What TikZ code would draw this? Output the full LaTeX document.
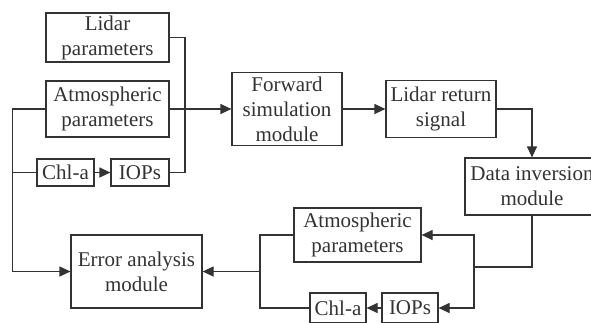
\documentclass[tikz,border=0pt]{standalone}
\usepackage{fontspec}
\setmainfont{Liberation Serif}
\usetikzlibrary{arrows.meta}
\definecolor{ink}{HTML}{333333}
\begin{document}
\begin{tikzpicture}[x=1pt,y=-1pt,
  box/.style={draw=ink, line width=1.2pt, inner sep=0pt, align=center,
    font=\fontsize{21}{25}\selectfont, text=ink},
  link/.style={draw=ink, line width=1.2pt},
  arr/.style={link, -{Triangle[length=11pt,width=10pt]}}]
  \fill[white] (0,0) rectangle (591,322);
  \useasboundingbox (0,0) rectangle (591,322);

  % forward branch
  \node[box, minimum width=123pt, minimum height=49pt] (lidar) at (107.5,37.5) {Lidar\\parameters};
  \node[box, minimum width=123pt, minimum height=56pt] (atm1) at (107.5,109) {Atmospheric\\parameters};
  \node[box, minimum width=57pt, minimum height=27pt] (chl1) at (65.5,172.5) {Chl-a};
  \node[box, minimum width=58pt, minimum height=27pt] (iop1) at (140,172.5) {IOPs};
  \node[box, minimum width=110pt, minimum height=73pt] (fwd) at (287,109) {Forward\\simulation\\module};
  \node[box, minimum width=110pt, minimum height=57pt] (ret) at (441,109) {Lidar return\\signal};
  \node[box, minimum width=134pt, minimum height=57pt] (inv) at (532,186.5) {Data inversion\\module};

  % retrieval branch
  \node[box, minimum width=127pt, minimum height=54pt] (atm2) at (357.5,235) {Atmospheric\\parameters};
  \node[box, minimum width=131pt, minimum height=73pt] (err) at (136.5,271.5) {Error analysis\\module};
  \node[box, minimum width=56pt, minimum height=30pt] (chl2) at (338,308) {Chl-a};
  \node[box, minimum width=56pt, minimum height=30pt] (iop2) at (410,308) {IOPs};

  % junction points of the buses
  \coordinate (busR) at (185,109);
  \coordinate (busL) at (12.5,172.5);
  \coordinate (busB) at (474,267);
  \coordinate (busE) at (260,271.5);

  % inputs to the forward simulation
  \draw[link] (lidar.east) -| (busR) |- (iop1.east);
  \draw[arr] (atm1.east) -- (fwd.west);
  \draw[arr] (chl1) -- (iop1);
  \draw[arr] (fwd) -- (ret);
  \draw[arr] (ret.east) -| (inv.north);

  % true values to the error analysis
  \draw[arr] (atm1.west) -| (busL) |- (err.west);
  \draw[link] (chl1.west) -- (busL);

  % retrieved values
  \draw[link] (inv.south) |- (busB);
  \draw[arr] (busB) |- (atm2.east);
  \draw[arr] (busB) |- (iop2.east);
  \draw[arr] (iop2) -- (chl2);
  \draw[link] (atm2.west) -| (busE) |- (chl2.west);
  \draw[arr] (busE) -- (err.east);
\end{tikzpicture}
\end{document}
